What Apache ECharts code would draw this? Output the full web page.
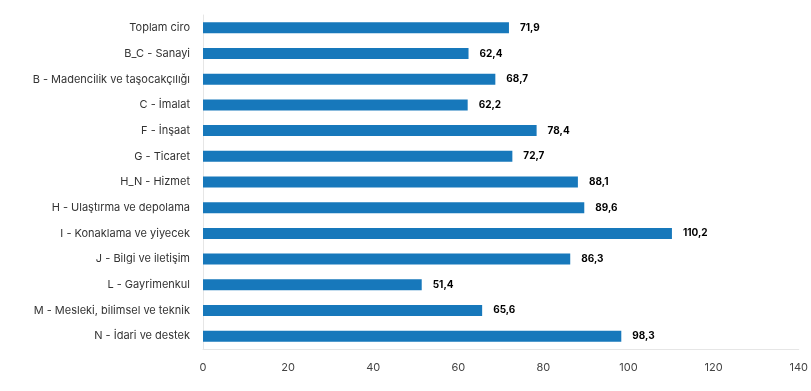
<!DOCTYPE html>
<html><head><meta charset="utf-8">
<script src="https://cdn.jsdelivr.net/npm/echarts@6/dist/echarts.min.js"></script>
<style>html,body{margin:0;padding:0;background:#fff}#c{width:811px;height:391px}</style>
</head><body><div id="c"></div>
<script>
const categories = ["Toplam ciro","B_C - Sanayi","B - Madencilik ve taşocakçılığı","C - İmalat","F - İnşaat","G - Ticaret","H_N - Hizmet","H - Ulaştırma ve depolama","I - Konaklama ve yiyecek","J - Bilgi ve iletişim","L - Gayrimenkul","M - Mesleki, bilimsel ve teknik","N - İdari ve destek"];
const values = [71.9,62.4,68.7,62.2,78.4,72.7,88.1,89.6,110.2,86.3,51.4,65.6,98.3];
const xTicks = [0,20,40,60,80,100,120,140];

const chart = echarts.init(document.getElementById('c'), null, {renderer:'canvas'});
const font = 'Inter, "Liberation Sans", sans-serif';
chart.setOption({
  animation:false,
  grid:{left:203, right:12, top:15, bottom:42, containLabel:false},
  xAxis:{type:'value', min:xTicks[0], max:xTicks[xTicks.length-1], interval:20,
    axisLine:{show:true, lineStyle:{color:'#e6e6e6', width:1}},
    axisTick:{show:false}, splitLine:{show:false},
    axisLabel:{color:'#444', fontSize:11, fontFamily:font, margin:13,
      formatter:v=>String(v)}},
  yAxis:{type:'category', data:categories, inverse:true,
    axisLine:{show:true, lineStyle:{color:'#e6e6e6', width:1}},
    axisTick:{show:false},
    axisLabel:{color:'#333', fontSize:11, fontFamily:font, margin:13}},
  series:[{type:'bar', data:values, barWidth:11,
    itemStyle:{color:'#1778bb'},
    label:{show:true, position:'right', distance:11, color:'#000', fontSize:10, fontWeight:'bold', fontFamily:font,
      formatter:p=>p.value.toFixed(1).replace('.',',')}}]
});
</script></body></html>
